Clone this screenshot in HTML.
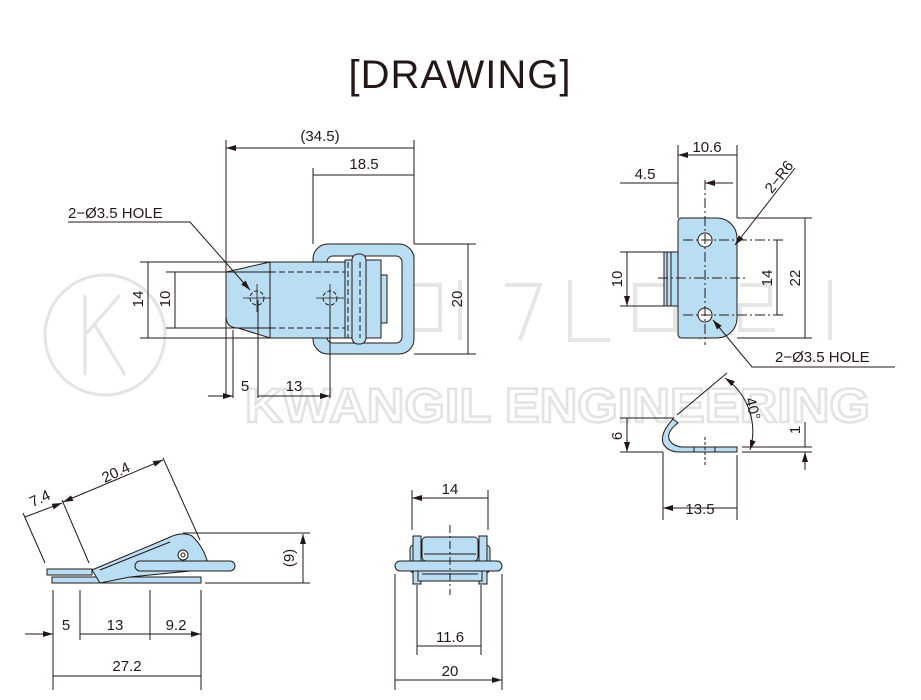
<!DOCTYPE html>
<html><head><meta charset="utf-8"><style>
html,body{margin:0;padding:0;background:#fff}
svg{display:block}
text{font-family:"Liberation Sans",sans-serif;fill:#231815}
</style></head><body>
<svg width="921" height="700" viewBox="0 0 921 700" xmlns="http://www.w3.org/2000/svg">
<defs>
<marker id="a" viewBox="0 0 10 6" refX="10" refY="3" markerWidth="10" markerHeight="6" orient="auto-start-reverse" markerUnits="userSpaceOnUse"><path d="M0,0L10,3L0,6z" fill="#231815"/></marker>
</defs>
<!-- watermark -->
<g fill="none" stroke="#e4e4e4" stroke-width="3">
<circle cx="105" cy="335" r="60"/>
<path d="M85,295V375M85,335L120,295M95,325L125,375"/>
</g>
<text x="245" y="422" font-size="48" style="fill:none;stroke:#e3e3e3;stroke-width:2.5" textLength="625" lengthAdjust="spacingAndGlyphs" font-weight="bold">KWANGIL ENGINEERING</text>
<g fill="none" stroke="#e6e6e6" stroke-width="4">
<path d="M405,285h35v45h-35zM460,280v60M505,285h35l-20,55M570,280v60h40M635,285h40v45h-40zM700,280v60M740,285h30v20h-30v25h35M830,280v60"/>
</g>
<text x="460" y="88" font-size="40" text-anchor="middle" letter-spacing="1">[DRAWING]</text>

<g stroke="#231815" stroke-width="1" fill="none">
<!-- ===== top view ===== -->
<rect x="313" y="244" width="101" height="110" rx="15" fill="#b9ddf3"/>
<rect x="327" y="256" width="75" height="87" rx="6" fill="#fff"/>
<path d="M270,262L226,272Q226,272 226,290V316Q226,328 238,328L270,338Z" fill="#b9ddf3"/>
<rect x="270" y="262" width="78" height="76" fill="#b9ddf3"/>
<rect x="345" y="260" width="36" height="78" fill="#b9ddf3"/>
<rect x="381" y="275" width="6" height="48" fill="#b9ddf3"/>
<rect x="352" y="254" width="14" height="90" rx="6" fill="#b9ddf3"/>
<path d="M270,272H345M270,328H345M348,262V338M360,262V338" stroke-dasharray="6,3"/>
<circle cx="257" cy="298" r="7" stroke-dasharray="4,2"/>
<circle cx="330" cy="298" r="7" stroke-dasharray="4,2"/>
<path d="M243,298H271M257,284V312M316,298H344M330,284V312" stroke-width="0.8"/>
<path d="M226,140V398M414,140V244M313,168V244M414,354H476M414,244H476M140,262H270M166,272H270M140,338H270M166,328H270M233,330V398M258,300V398M330,305V398"/>
<path d="M226,148H414M313,175H414M468,244V354M148,262V338M175,272V328M258,396H330" marker-end="url(#a)" marker-start="url(#a)"/>
<path d="M208,396H233" marker-end="url(#a)"/>
<path d="M68,222H190L250,290" marker-end="url(#a)"/>
</g>
<text x="320" y="141" font-size="15" text-anchor="middle">(34.5)</text>
<text x="364" y="169" font-size="15" text-anchor="middle">18.5</text>
<text x="68" y="218" font-size="15">2−Ø3.5 HOLE</text>
<text x="245" y="391" font-size="15" text-anchor="middle">5</text>
<text x="294" y="391" font-size="15" text-anchor="middle">13</text>
<text transform="translate(462,299) rotate(-90)" font-size="15" text-anchor="middle">20</text>
<text transform="translate(143,299) rotate(-90)" font-size="15" text-anchor="middle">14</text>
<text transform="translate(170,299) rotate(-90)" font-size="15" text-anchor="middle">10</text>

<!-- ===== right view ===== -->
<g stroke="#231815" stroke-width="1" fill="none">
<rect x="664" y="252" width="14" height="54" fill="#b9ddf3"/>
<path d="M667,252V306M671,252V306"/>
<path d="M678,222Q678,218 682,218H717A20,20 0 0 1 737,238V318A20,20 0 0 1 717,338H682Q678,338 678,334Z" fill="#b9ddf3"/>
<circle cx="705" cy="240" r="7" fill="#fff"/>
<circle cx="705" cy="315" r="7" fill="#fff"/>
<path d="M683,240H783M683,315H783M705,180V345M658,278H745" stroke-dasharray="10,3,2,3"/>
<path d="M678,145V218M737,145V218M737,218H812M737,338H812M620,252H664M620,306H664"/>
<path d="M678,155H737M777,240V315M805,218V338M627,252V306" marker-start="url(#a)" marker-end="url(#a)"/>
<path d="M620,183H678M733,183H705" marker-end="url(#a)"/>
<path d="M795,168L735,245" marker-end="url(#a)"/>
<path d="M895,367H752L713,320" marker-end="url(#a)"/>
<!-- bent part -->
<path d="M673,419Q660,433 663,443Q667,452 680,452H737V447H682Q672,446 669,439Q667,431 678,423Z" fill="#b9ddf3"/>
<path d="M694,447V452M715,447V452" />
<path d="M705,437V465" stroke-dasharray="3,2"/>
<path d="M663,452V520M737,455V520M620,418H674M620,452H663M742,452H812M742,447H812M677,415L727,373"/>
<path d="M663,508H737M627,418V452" marker-start="url(#a)" marker-end="url(#a)"/>
<path d="M805,422V447M805,470V452" marker-end="url(#a)"/>
<path d="M725,378A65,65 0 0 1 750,450" marker-start="url(#a)" marker-end="url(#a)"/>
</g>
<text x="707" y="152" font-size="15" text-anchor="middle">10.6</text>
<text x="645" y="179" font-size="15" text-anchor="middle">4.5</text>
<text transform="translate(783,180) rotate(-52)" font-size="15" text-anchor="middle">2−R6</text>
<text x="775" y="362" font-size="15">2−Ø3.5 HOLE</text>
<text transform="translate(622,279) rotate(-90)" font-size="15" text-anchor="middle">10</text>
<text transform="translate(772,278) rotate(-90)" font-size="15" text-anchor="middle">14</text>
<text transform="translate(800,278) rotate(-90)" font-size="15" text-anchor="middle">22</text>
<text transform="translate(622,436) rotate(-90)" font-size="15" text-anchor="middle">6</text>
<text transform="translate(800,430) rotate(-90)" font-size="15" text-anchor="middle">1</text>
<text transform="translate(748,410) rotate(75)" font-size="15" text-anchor="middle">40°</text>
<text x="700" y="514" font-size="15" text-anchor="middle">13.5</text>

<!-- ===== side view ===== -->
<g stroke="#231815" stroke-width="1" fill="none">
<rect x="52" y="577" width="149" height="6" fill="#b9ddf3"/>
<path d="M47,569H92V575H47Z" fill="#b9ddf3"/>
<path d="M92,570L168,538Q182,531 192,536Q202,545 207,560L200,570L130,577L100,583Z" fill="#b9ddf3"/>
<path d="M100,570L170,542"/>
<rect x="135" y="561" width="100" height="10" rx="5" fill="#b9ddf3"/>
<circle cx="183" cy="555" r="5" fill="#fff"/><circle cx="183" cy="555" r="2"/>
<path d="M53,590V640M80,590V640M150,590V640M201,590V640M53,640V690M201,640V690M183,533H310M205,583H310M23,513L45,563M62,500L89,563M163,458L200,540"/>
<path d="M303,534V583M53,676H201M80,634H150M150,634H201" marker-start="url(#a)" marker-end="url(#a)"/>
<path d="M25,634H53" marker-end="url(#a)"/>
<path d="M63,502L163,460" marker-start="url(#a)" marker-end="url(#a)"/>
<path d="M25,517L62,503" marker-end="url(#a)"/>
</g>
<text transform="translate(118,477) rotate(-25)" font-size="15" text-anchor="middle">20.4</text>
<text transform="translate(42,503) rotate(-25)" font-size="15" text-anchor="middle">7.4</text>
<text transform="translate(294,558) rotate(-90)" font-size="15" text-anchor="middle">(9)</text>
<text x="66" y="630" font-size="15" text-anchor="middle">5</text>
<text x="115" y="630" font-size="15" text-anchor="middle">13</text>
<text x="176" y="630" font-size="15" text-anchor="middle">9.2</text>
<text x="127" y="671" font-size="15" text-anchor="middle">27.2</text>

<!-- ===== front view ===== -->
<g stroke="#231815" stroke-width="1" fill="none">
<rect x="410" y="545" width="80" height="28" rx="4" fill="#b9ddf3"/>
<rect x="413" y="536" width="8" height="48" fill="#b9ddf3"/>
<rect x="479" y="536" width="8" height="48" fill="#b9ddf3"/>
<rect x="422" y="537" width="56" height="24" rx="4" fill="#b9ddf3"/>
<path d="M424,554H476"/>
<rect x="395" y="561" width="107" height="10" rx="5" fill="#b9ddf3"/>
<rect x="418" y="571" width="64" height="10" fill="#b9ddf3"/>
<path d="M422,574H478"/>
<path d="M450,525V595" stroke-dasharray="8,3,2,3"/>
<path d="M412,490V530M488,490V530M395,574V690M502,574V690M417,585V655M481,585V655"/>
<path d="M412,498H488M417,646H481M395,680H502" marker-start="url(#a)" marker-end="url(#a)"/>
</g>
<text x="450" y="494" font-size="15" text-anchor="middle">14</text>
<text x="450" y="642" font-size="15" text-anchor="middle">11.6</text>
<text x="450" y="676" font-size="15" text-anchor="middle">20</text>
</svg>
</body></html>
